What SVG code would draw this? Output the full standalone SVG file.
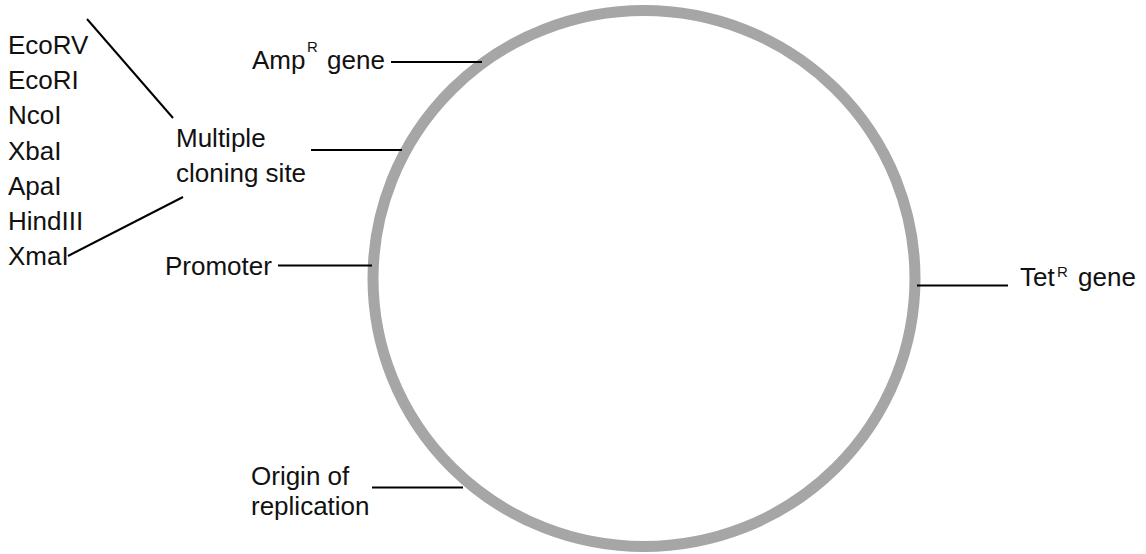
<svg xmlns="http://www.w3.org/2000/svg" width="1146" height="554" viewBox="0 0 1146 554">
<style>
text{font-family:"Liberation Sans",Arial,sans-serif;font-size:26px;fill:#111}
.sup{font-size:15px}
.ln{stroke:#000;stroke-width:2;fill:none}
</style>
<rect width="1146" height="554" fill="#fff"/>
<g id="plasmid">
<ellipse cx="644" cy="278.5" rx="271" ry="268" fill="none" stroke="#a6a6a6" stroke-width="11"/>
</g>
<g id="connectors">
<line class="ln" x1="391" y1="62" x2="482" y2="62"/>
<line class="ln" x1="311" y1="150" x2="402" y2="150"/>
<line class="ln" x1="278" y1="265.5" x2="372" y2="265.5"/>
<line class="ln" x1="917" y1="285.5" x2="1008" y2="285.5"/>
<line class="ln" x1="372" y1="487.5" x2="463" y2="487.5"/>
<line class="ln" x1="87" y1="19" x2="173" y2="118"/>
<line class="ln" x1="183" y1="197" x2="68" y2="256"/>
</g>
<g id="enzymes">
<text x="8" y="54">EcoRV</text>
<text x="8" y="89.2">EcoRI</text>
<text x="8" y="124.4">NcoI</text>
<text x="8" y="159.6">XbaI</text>
<text x="8" y="194.8">ApaI</text>
<text x="8" y="230">HindIII</text>
<text x="8" y="265.2">XmaI</text>
</g>
<g id="mcs">
<text x="176" y="146.7">Multiple</text>
<text x="176" y="181.7">cloning site</text>
</g>
<g id="amp">
<text x="252" y="69">Amp</text>
<text class="sup" x="307" y="52">R</text>
<text x="327" y="69">gene</text>
</g>
<g id="promoter">
<text x="165" y="275">Promoter</text>
</g>
<g id="tet">
<text x="1020" y="286">Tet</text>
<text class="sup" x="1057" y="277">R</text>
<text x="1078" y="286">gene</text>
</g>
<g id="origin">
<text x="251" y="485">Origin of</text>
<text x="251" y="515">replication</text>
</g>
</svg>
